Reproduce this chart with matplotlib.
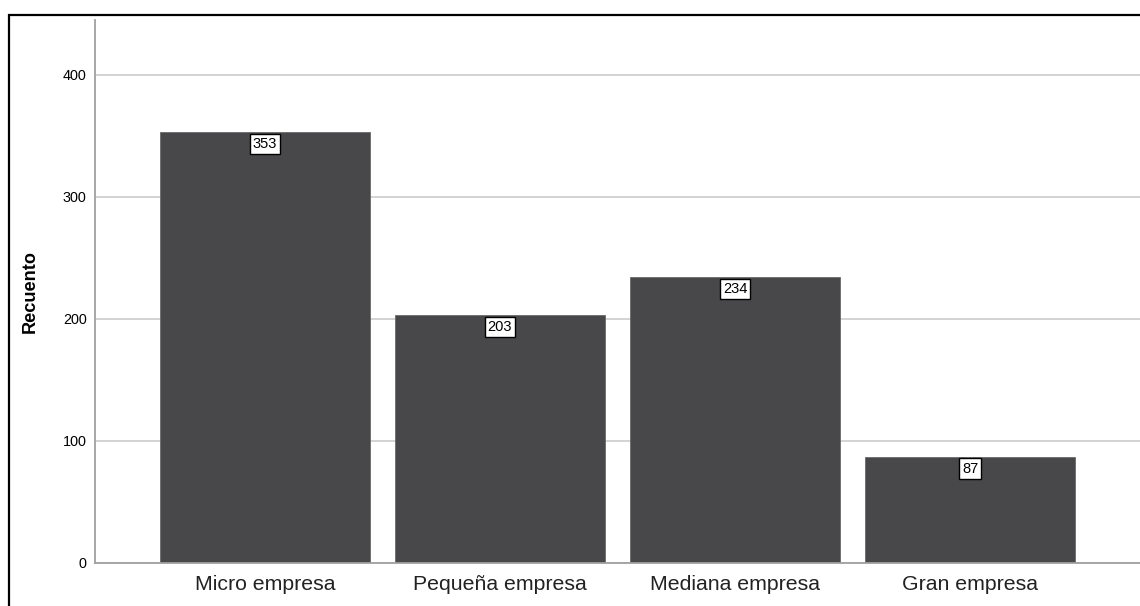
import matplotlib.pyplot as plt
import matplotlib.patches as mpatches

# datos del gráfico
categorias = ['Micro empresa', 'Pequeña empresa', 'Mediana empresa', 'Gran empresa']
recuento = [353, 203, 234, 87]
ticks_y = [0, 100, 200, 300, 400]

plt.rcParams['font.family'] = ['Liberation Sans', 'DejaVu Sans']

fig = plt.figure(figsize=(11.4, 6.06), dpi=100)
ax = fig.add_axes([95 / 1140, 43 / 606, 1 - 95 / 1140, (563 - 20) / 606])

# marco exterior (solo se ve arriba y a la izquierda)
fig.patches.append(mpatches.Rectangle((9 / 1140, -0.1), 1.2, 1.1 - 15 / 606,
                                      transform=fig.transFigure, fill=False,
                                      edgecolor='black', linewidth=1.6))

ax.set_axisbelow(True)
ax.yaxis.grid(True, color='#d0d0d0', linewidth=1.3)
ax.bar(range(len(categorias)), recuento, width=0.894,
       color='#48484a', edgecolor='#6a6a6a', linewidth=0.6)

for i, v in enumerate(recuento):
    ax.annotate(str(v), (i, v), xytext=(0, -8.5), textcoords='offset points',
                ha='center', va='center', fontsize=10.5,
                bbox=dict(boxstyle='square,pad=0.22', facecolor='white',
                          edgecolor='black', linewidth=1.0))

ax.set_xlim(-0.723, 3.723)
ax.set_ylim(0, 445)
ax.set_yticks(ticks_y)
ax.set_xticks(range(len(categorias)))
ax.set_xticklabels(categorias, fontsize=15.3, color='#222222')
ax.tick_params(axis='y', length=0, labelsize=10.4, pad=6)
ax.tick_params(axis='x', length=0, pad=8.5)
ax.set_ylabel('Recuento', fontsize=13.1, fontweight='bold', labelpad=17)

for s in ['top', 'right']:
    ax.spines[s].set_visible(False)
for s in ['left', 'bottom']:
    ax.spines[s].set_color('#a0a0a0')
    ax.spines[s].set_linewidth(1.3)

fig.savefig('out.png', dpi=100)
